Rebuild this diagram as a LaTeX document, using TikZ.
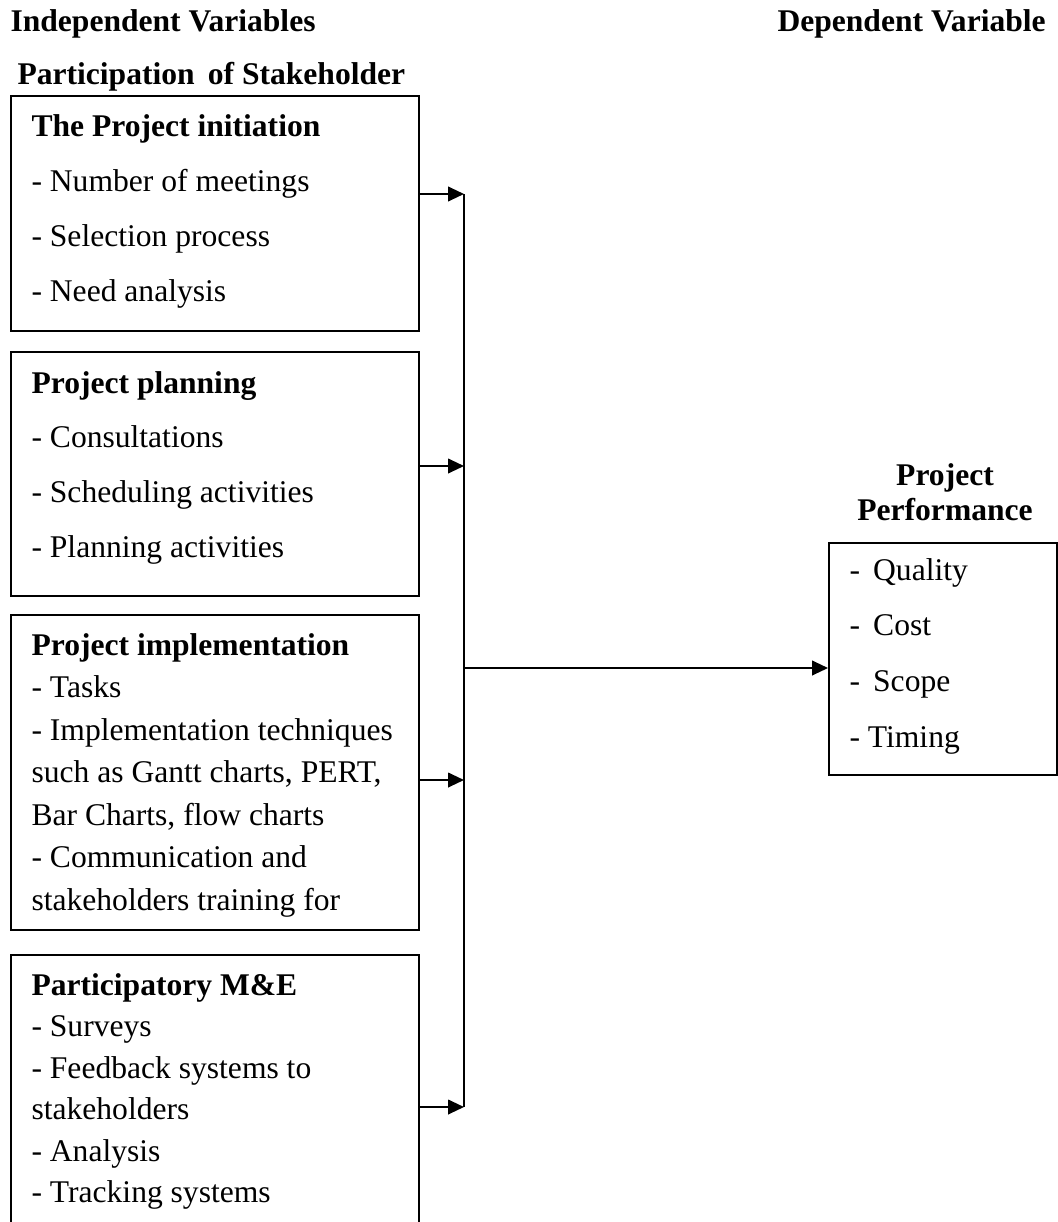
\documentclass[tikz,border=0pt]{standalone}
\usepackage{fontspec}
\setmainfont{Liberation Serif}
\usetikzlibrary{positioning,fit,arrows.meta}
\newcommand{\boxlines}[2]{\parbox[t]{160pt}{\fontsize{12}{#1}\selectfont #2}}

\begin{document}
\begin{tikzpicture}[x=0.38pt,y=-0.38pt,
    varbox/.style={draw,line width=0.75pt,inner sep=0pt},
    words/.style={anchor=base west,inner sep=0pt,font=\fontsize{12}{14}\selectfont},
    head/.style={words,font=\fontsize{12}{14}\selectfont\bfseries},
    feed/.style={line width=0.75pt,-{Triangle[length=6pt,width=5.5pt]}}]
  \clip (0,0) rectangle (1058,1222);
  % headings
  \node[head] (indep) at (10,32) {Independent Variables};
  \node[head] (dep) at (777,32) {Dependent Variable};
  \node[head] (partic) at (17,85) {Participation\ \,of Stakeholder};
  % stakeholder boxes
  \node[varbox, fit={(11,96) (419,331)}] (init) {};
  \node[varbox, fit={(11,352) (419,596)}] (plan) {};
  \node[varbox, fit={(11,615) (419,930)}] (impl) {};
  \node[varbox, fit={(11,955) (419,1260)}] (mande) {};
  \node[words] (initTxt) at (31,137) {\boxlines{20.9pt}{\textbf{The Project initiation}\\
      - Number of meetings\\ - Selection process\\ - Need analysis}};
  \node[words] (planTxt) at (31,393) {\boxlines{20.8pt}{\textbf{Project planning}\\
      - Consultations\\ - Scheduling activities\\ - Planning activities}};
  \node[words] (implTxt) at (31,655) {\boxlines{16.15pt}{\textbf{Project implementation}\\
      - Tasks\\ - Implementation techniques\\ such as Gantt charts, PERT,\\
      Bar Charts, flow charts\\ - Communication and\\ stakeholders training for}};
  \node[words] (mandeTxt) at (31,995) {\boxlines{15.8pt}{\textbf{Participatory M\&E}\\
      - Surveys\\ - Feedback systems to\\ stakeholders\\ - Analysis\\ - Tracking systems}};
  % performance box
  \node[head, anchor=base] (perfTitle) at (945,485) {\boxlines{13.3pt}{\centering\bfseries Project\\ Performance}};
  \node[varbox, fit={(829,543) (1057,775)}] (perf) {};
  \node[words] (perfTxt) at (849,580) {\boxlines{21.2pt}{-\ \,Quality\\ -\ \,Cost\\ -\ \,Scope\\ - Timing}};
  % connectors
  \coordinate (b1) at (464,194);
  \coordinate (b2) at (464,466);
  \coordinate (b3) at (464,780);
  \coordinate (b4) at (464,1107);
  \coordinate (hub) at (464,668);
  \draw[line width=0.75pt] (b1) -- (b4);
  \draw[feed] (init.east |- b1) -- (b1);
  \draw[feed] (plan.east |- b2) -- (b2);
  \draw[feed] (impl.east |- b3) -- (b3);
  \draw[feed] (mande.east |- b4) -- (b4);
  \draw[feed] (hub) -- (perf.west |- hub);
\end{tikzpicture}
\end{document}
